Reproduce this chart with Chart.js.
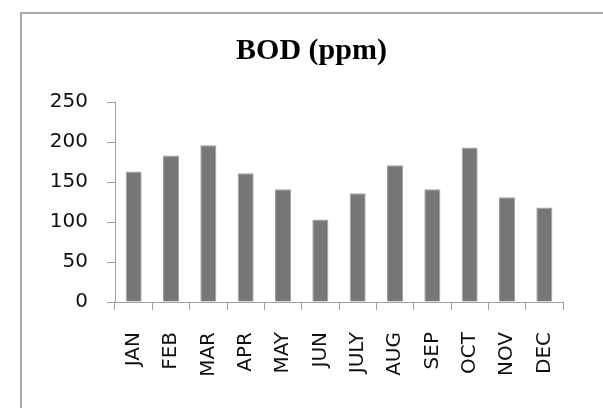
<!DOCTYPE html>
<html>
<head>
<meta charset="utf-8">
<script src="https://cdn.jsdelivr.net/npm/chart.js@4/dist/chart.umd.min.js"></script>
<style>
  html, body { margin: 0; padding: 0; background: #fff; }
  #wrap { width: 603px; height: 408px; }
</style>
</head>
<body>
<div id="wrap"><canvas id="bod-chart" width="603" height="408"></canvas></div>
<script>
const MONTHS = ["JAN", "FEB", "MAR", "APR", "MAY", "JUN", "JULY", "AUG", "SEP", "OCT", "NOV", "DEC"];
const BOD_VALUES = [163, 183, 196, 161, 141, 103, 136, 171, 141, 193, 131, 118];
const Y_TICKS = [0, 50, 100, 150, 200, 250];

const AXIS_GRAY = "#a0a0a0";
const TICK_FONT = { family: "'DejaVu Sans', sans-serif", size: 20 };

// grey frame round the chart, runs off the right and bottom edges
const framePlugin = {
  id: "frame",
  beforeDraw(chart) {
    const ctx = chart.ctx;
    ctx.save();
    ctx.strokeStyle = "#a8a8a8";
    ctx.lineWidth = 2;
    ctx.strokeRect(21, 13, 700, 500);
    ctx.restore();
  },
};

new Chart(document.getElementById("bod-chart"), {
  type: "bar",
  data: {
    labels: MONTHS,
    datasets: [
      {
        label: "BOD (ppm)",
        data: BOD_VALUES,
        backgroundColor: "#767676",
        borderColor: "#a2a2a2",
        borderWidth: 1,
        barPercentage: 0.43,
        categoryPercentage: 1,
      },
    ],
  },
  options: {
    responsive: false,
    animation: false,
    layout: { padding: { left: 20, right: 0, top: 0, bottom: 26 } },
    plugins: {
      legend: { display: false },
      tooltip: { enabled: false },
      title: {
        display: true,
        text: "BOD (ppm)",
        color: "#000",
        font: { family: "'Liberation Serif', serif", size: 30, weight: "bold" },
        padding: { top: 33, bottom: 33 },
      },
    },
    scales: {
      x: {
        grid: { drawOnChartArea: false, drawTicks: true, tickLength: 8, color: AXIS_GRAY, offset: true },
        border: { color: AXIS_GRAY, width: 1 },
        ticks: { color: "#111", font: TICK_FONT, minRotation: 90, maxRotation: 90, padding: 22, autoSkip: false },
        afterFit(scale) { scale.height = 80; },
      },
      y: {
        min: 0,
        max: 250,
        afterBuildTicks(scale) { scale.ticks = Y_TICKS.map((v) => ({ value: v })); },
        grid: { drawOnChartArea: false, drawTicks: true, tickLength: 8, color: AXIS_GRAY },
        border: { color: AXIS_GRAY, width: 1 },
        ticks: { color: "#111", font: TICK_FONT, padding: 19 },
        afterFit(scale) { scale.width = 95; },
      },
      // empty spacer on the right so the plot ends where the reference does
      spacer: {
        position: "right",
        display: true,
        grid: { display: false },
        border: { display: false },
        ticks: { display: false },
        afterFit(scale) { scale.width = 40; },
      },
    },
  },
  plugins: [framePlugin],
});
</script>
</body>
</html>
